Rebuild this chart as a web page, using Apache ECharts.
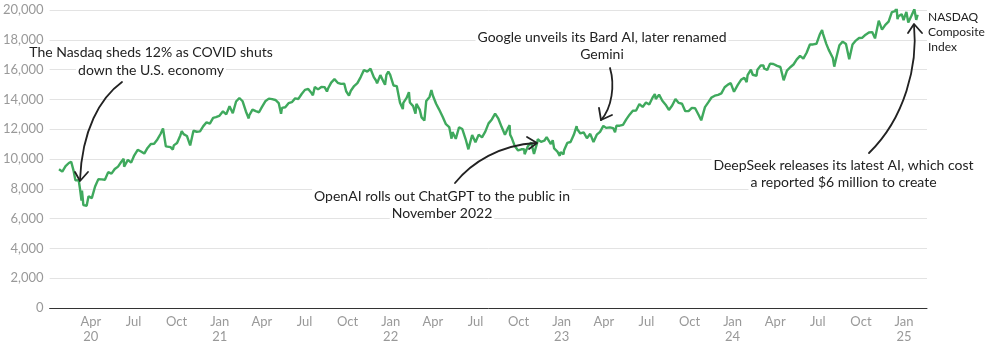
<!DOCTYPE html>
<html>
<head>
<meta charset="utf-8">
<title>NASDAQ Composite</title>
<script src="https://cdn.jsdelivr.net/npm/echarts@6/dist/echarts.min.js"></script>
<style>
  html, body { margin: 0; padding: 0; background: #fff; }
  #main { width: 990px; height: 352px; }
</style>
</head>
<body>
<div id="main"></div>
<script>
// closes, by year (MM-DD / value)
var days2020 = ['01-24','01-31','02-07','02-14','02-19','02-24','02-28','03-06','03-09','03-12','03-13','03-16','03-20','03-23','03-27','04-03','04-10','04-17','04-24','05-01','05-08','05-15','05-22','05-29','06-05','06-10','06-11','06-19','06-26','07-02','07-10','07-17','07-24','07-31','08-07','08-14','08-21','08-28','09-02','09-08','09-11','09-18','09-23','09-25','10-02','10-09','10-12','10-16','10-23','10-30','11-06','11-13','11-20','11-27','12-04','12-11','12-18','12-24','12-31'];
var close2020 = [9314,9151,9520,9731,9817,9221,8567,8575,7950,7201,7875,6904,6880,6860,7502,7373,8154,8650,8634,8605,9121,9015,9325,9490,9815,10020,9493,9946,9757,10207,10617,10503,10363,10745,11011,11019,11312,11695,12056,10848,10854,10793,10633,10913,11075,11580,11876,11672,11548,10912,11895,11829,11855,12206,12464,12378,12756,12805,12888];

var days2021 = ['01-08','01-15','01-22','01-29','02-05','02-12','02-19','02-26','03-04','03-05','03-12','03-19','03-26','04-01','04-09','04-16','04-23','04-30','05-07','05-12','05-14','05-21','05-28','06-04','06-11','06-18','06-25','07-02','07-09','07-16','07-19','07-23','07-30','08-06','08-13','08-18','08-20','08-27','09-03','09-07','09-10','09-17','09-24','09-28','10-01','10-04','10-08','10-15','10-22','10-29','11-05','11-12','11-19','11-26','11-30','12-01','12-03','12-10','12-17','12-20','12-23','12-27','12-31'];
var close2021 = [13202,12998,13543,13070,13856,14095,13874,13192,12723,12920,13319,13215,13138,13480,13900,14052,14016,13962,13752,13031,13430,13471,13749,13814,14069,14030,14360,14639,14701,14427,14275,14837,14673,14835,14823,14526,14715,15129,15363,15374,15115,15044,15048,14546,14567,14255,14580,14897,15090,15498,15971,15860,16057,15491,15538,15254,15085,15630,15169,14981,15653,15871,15645];

var days2022 = ['01-04','01-07','01-14','01-21','01-27','01-28','02-04','02-09','02-11','02-18','02-23','02-25','03-04','03-08','03-11','03-14','03-18','03-25','03-29','04-01','04-08','04-14','04-22','04-29','05-06','05-11','05-13','05-20','05-27','06-03','06-10','06-16','06-17','06-24','07-01','07-08','07-15','07-22','07-29','08-05','08-12','08-16','08-19','08-26','09-02','09-09','09-12','09-13','09-16','09-23','09-30','10-07','10-13','10-14','10-21','10-28','11-03','11-04','11-10','11-11','11-18','11-25','11-30','12-02','12-09','12-13','12-16','12-23','12-28','12-30'];
var close2022 = [15622,14936,14894,13769,13353,13771,14098,14490,13791,13548,13038,13694,13313,12795,12843,12581,13894,14169,14619,14261,13711,13351,12840,12335,12145,11364,11805,11354,12131,12013,11340,10646,10798,11608,11128,11635,11452,11834,12391,12657,13047,13103,12705,12141,11631,12112,12266,11634,11448,10868,10576,10652,10650,10321,10859,11102,10343,10475,11114,11323,11146,11226,11468,11462,11005,11256,10705,10498,10213,10466];

var days2023 = ['01-05','01-06','01-13','01-20','01-27','02-02','02-03','02-10','02-17','02-24','03-03','03-10','03-13','03-17','03-24','03-31','04-06','04-14','04-21','04-25','04-28','05-05','05-12','05-19','05-26','06-02','06-09','06-16','06-23','06-30','07-07','07-14','07-19','07-21','07-28','08-04','08-11','08-18','08-25','09-01','09-08','09-15','09-22','09-29','10-06','10-13','10-20','10-26','10-27','11-03','11-10','11-17','11-24','12-01','12-08','12-15','12-22','12-28','12-29'];
var close2023 = [10305,10569,11079,11140,11622,12201,12007,11718,11787,11395,11689,11139,11189,11631,11824,12222,12088,12123,12073,11799,12227,12235,12285,12658,12976,13241,13259,13689,13492,13788,13661,14113,14358,14032,14317,13909,13645,13291,13591,14031,13762,13708,13212,13219,13431,13407,12984,12596,12643,13478,13798,14125,14250,14305,14404,14814,14993,15095,15011];

var days2024 = ['01-04','01-05','01-12','01-19','01-26','01-31','02-02','02-09','02-13','02-16','02-21','02-23','03-01','03-07','03-08','03-15','03-21','03-22','03-28','04-05','04-12','04-19','04-26','05-03','05-10','05-17','05-24','05-31','06-07','06-14','06-21','06-28','07-05','07-10','07-12','07-19','07-24','07-26','08-02','08-05','08-09','08-16','08-23','08-30','09-06','09-13','09-20','09-27','10-04','10-11','10-18','10-25','10-31','11-01','11-08','11-11','11-15','11-22','11-29','12-06','12-13','12-16','12-18','12-20','12-27','12-31'];
var close2024 = [14510,14524,14973,15311,15455,15164,15629,15990,15656,15776,15581,15997,16275,16273,16085,15973,16401,16429,16379,16249,16175,15282,15928,16156,16341,16686,16921,16735,17133,17689,17689,17733,18353,18647,18398,17727,17342,17358,16776,16200,16745,17631,17877,17714,16691,17684,17948,18120,18138,18343,18490,18519,18095,18240,19287,19299,18680,19004,19218,19860,19927,20173,19393,19573,19722,19311];

var days2025 = ['01-03','01-06','01-10','01-13','01-17','01-23','01-24','01-27','01-30'];
var close2025 = [19622,19864,19162,19088,19630,20053,19954,19341,19681];

// quarter labels on the x axis
var tickDates = ['2020-04-01','2020-07-01','2020-10-01','2021-01-01','2021-04-01','2021-07-01','2021-10-01','2022-01-01','2022-04-01','2022-07-01','2022-10-01','2023-01-01','2023-04-01','2023-07-01','2023-10-01','2024-01-01','2024-04-01','2024-07-01','2024-10-01','2025-01-01'];
var monthNames = ['Jan','Feb','Mar','Apr','May','Jun','Jul','Aug','Sep','Oct','Nov','Dec'];

function toTime(str) {
  var p = str.split('-');
  return Date.UTC(+p[0], +p[1] - 1, +p[2]);
}

var years = [
  [2020, days2020, close2020],
  [2021, days2021, close2021],
  [2022, days2022, close2022],
  [2023, days2023, close2023],
  [2024, days2024, close2024],
  [2025, days2025, close2025]
];
var lineData = [];
years.forEach(function (y) {
  for (var i = 0; i < y[1].length; i++) {
    lineData.push([toTime(y[0] + '-' + y[1][i]), y[2][i]]);
  }
});

var FONT = 'Lato, "Open Sans", sans-serif';
var chart = echarts.init(document.getElementById('main'), null, { renderer: 'canvas' });

var ink = '#222';
var arrowStyle = { stroke: ink, lineWidth: 1.8, fill: null, lineCap: 'round', lineJoin: 'round' };

// one text element per line so each line gets its own white box over the grid
function note(text, x, y) {
  return {
    type: 'text',
    z: 20,
    style: {
      text: text, x: x, y: y,
      align: 'center', verticalAlign: 'middle',
      font: '14px ' + FONT, fill: ink,
      backgroundColor: '#fff', padding: [1, 2]
    }
  };
}

var option = {
  animation: false,
  backgroundColor: '#fff',
  grid: { left: 48, right: 63, top: 10, bottom: 44 },
  xAxis: {
    // dates as ms, plain value axis so the quarter labels can be placed exactly
    type: 'value',
    min: toTime('2020-01-04'),
    max: toTime('2025-02-19'),
    axisLine: { show: true, onZero: false, lineStyle: { color: '#333', width: 1 } },
    axisTick: { show: false },
    splitLine: { show: false },
    axisLabel: {
      customValues: tickDates.map(toTime),
      showMinLabel: true,
      showMaxLabel: true,
      color: '#999',
      fontFamily: FONT,
      fontSize: 13,
      lineHeight: 15,
      margin: 6,
      formatter: function (val) {
        var d = new Date(val);
        var m = d.getUTCMonth();
        var s = monthNames[m];
        if (m === 0 || (d.getUTCFullYear() === 2020 && m === 3)) {
          s += '\n' + String(d.getUTCFullYear()).slice(2);
        }
        return s;
      }
    }
  },
  yAxis: {
    type: 'value',
    min: 0,
    max: 20000,
    interval: 2000,
    axisLine: { show: false },
    axisTick: { show: false },
    splitLine: { lineStyle: { color: '#e3e3e3', width: 1 } },
    axisLabel: {
      color: '#999',
      fontFamily: FONT,
      fontSize: 13,
      margin: 6,
      formatter: function (v) {
        return String(v).replace(/\B(?=(\d{3})+(?!\d))/g, ',');
      }
    }
  },
  series: [
    {
      name: 'NASDAQ Composite Index',
      type: 'line',
      data: lineData,
      showSymbol: false,
      symbol: 'none',
      lineStyle: { color: '#3fa95d', width: 2.4 },
      z: 3
    }
  ],
  graphic: [
    // annotations
    note('The Nasdaq sheds 12% as COVID shuts', 151, 52.7),
    note('down the U.S. economy', 151, 70),
    note('OpenAI rolls out ChatGPT to the public in', 442, 196.7),
    note('November 2022', 442, 213.3),
    note('Google unveils its Bard AI, later renamed', 602, 37.3),
    note('Gemini', 602, 54),
    note('DeepSeek releases its latest AI, which cost', 843.5, 165.7),
    note('a reported $6 million to create', 843.5, 182.7),
    { type: 'text', style: { text: 'NASDAQ\nComposite\nIndex', x: 928, y: 31.8, align: 'left', verticalAlign: 'middle', lineHeight: 15, font: '12px ' + FONT, fill: ink } },

    // arrows
    { type: 'bezierCurve', shape: { x1: 122, y1: 82, cpx1: 100, cpy1: 98, cpx2: 82, cpy2: 130, x2: 80, y2: 180 }, style: arrowStyle, z: 10 },
    { type: 'polyline', shape: { points: [[75, 172], [80, 181], [88, 172]] }, style: arrowStyle, z: 10 },

    { type: 'bezierCurve', shape: { x1: 455, y1: 183, cpx1: 472, cpy1: 162, cpx2: 500, cpy2: 145, x2: 536, y2: 143 }, style: arrowStyle, z: 10 },
    { type: 'polyline', shape: { points: [[527, 137], [537, 143], [529, 149]] }, style: arrowStyle, z: 10 },

    { type: 'bezierCurve', shape: { x1: 610, y1: 68, cpx1: 615, cpy1: 85, cpx2: 612, cpy2: 108, x2: 601, y2: 120 }, style: arrowStyle, z: 10 },
    { type: 'polyline', shape: { points: [[599, 108], [601, 120], [612, 115]] }, style: arrowStyle, z: 10 },

    { type: 'bezierCurve', shape: { x1: 869, y1: 153, cpx1: 905, cpy1: 118, cpx2: 918, cpy2: 65, x2: 914, y2: 25 }, style: arrowStyle, z: 10 },
    { type: 'polyline', shape: { points: [[908, 33], [914, 24], [922, 33]] }, style: arrowStyle, z: 10 }
  ]
};

chart.setOption(option);
</script>
</body>
</html>
